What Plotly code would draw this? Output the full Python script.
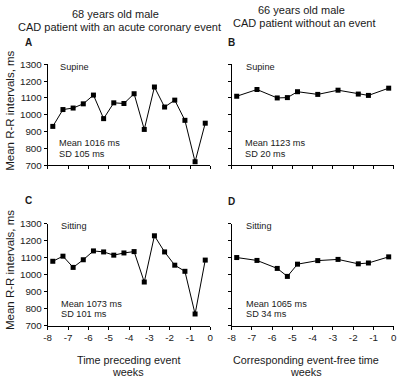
import plotly.graph_objects as go

# ---- data ----
weeks_a = [-7.75, -7.25, -6.75, -6.25, -5.75, -5.25, -4.75, -4.25,
           -3.75, -3.25, -2.75, -2.25, -1.75, -1.25, -0.75, -0.25]
rr_a_supine = [931, 1031, 1040, 1065, 1117, 977, 1071, 1067,
               1125, 913, 1165, 1046, 1087, 967, 721, 950]
rr_a_sitting = [1078, 1108, 1042, 1087, 1139, 1133, 1114, 1127,
                1135, 956, 1228, 1133, 1055, 1019, 768, 1085]

weeks_b = [-7.75, -6.75, -5.75, -5.25, -4.75, -3.75, -2.75, -1.75, -1.25, -0.25]
rr_b_supine = [1110, 1150, 1100, 1102, 1137, 1121, 1146, 1123, 1115, 1158]
rr_b_sitting = [1100, 1083, 1036, 989, 1061, 1082, 1089, 1063, 1068, 1104]

x_ticks = [-8, -7, -6, -5, -4, -3, -2, -1, 0]
x_tick_labels = ["-8", "-7", "-6", "-5", "-4", "-3", "-2", "-1", "0"]
y_ticks = [700, 800, 900, 1000, 1100, 1200, 1300]

W, H = 400, 382
FONT = "Liberation Sans, Arial, sans-serif"
TXT = "#1a1a1a"


def px(x):
    return x / W


def py(y):
    return 1 - y / H


fig = go.Figure()

panels = [
    (weeks_a, rr_a_supine, "x", "y"),
    (weeks_b, rr_b_supine, "x2", "y2"),
    (weeks_a, rr_a_sitting, "x3", "y3"),
    (weeks_b, rr_b_sitting, "x4", "y4"),
]
for xs, ys, xa, ya in panels:
    fig.add_trace(go.Scatter(
        x=xs, y=ys, xaxis=xa, yaxis=ya, mode="lines+markers",
        line=dict(color="black", width=1),
        marker=dict(symbol="square", size=5, color="black"),
        showlegend=False, cliponaxis=False))

xdom_l = [px(44.5), px(210)]
xdom_r = [px(231.7), px(396.7)]
ydom_t = [py(164), py(60)]
ydom_b = [py(329), py(224)]

axis_common = dict(showline=True, linecolor="black", linewidth=1,
                   ticks="outside", ticklen=3, tickwidth=1, tickcolor="black",
                   showgrid=False, zeroline=False,
                   tickfont=dict(family=FONT, size=9.8, color=TXT))


def xax(dom, anchor, labels):
    return dict(axis_common, domain=dom, anchor=anchor, range=[-8, 0],
                tickvals=x_ticks, ticktext=x_tick_labels,
                showticklabels=labels)


def yax(dom, anchor, labels):
    return dict(axis_common, domain=dom, anchor=anchor, range=[700, 1300],
                tickvals=y_ticks, showticklabels=labels)


fig.update_layout(
    width=W, height=H,
    margin=dict(l=0, r=0, t=0, b=0),
    paper_bgcolor="white", plot_bgcolor="white",
    font=dict(family=FONT, color=TXT),
    xaxis=xax(xdom_l, "y", False),
    yaxis=yax(ydom_t, "x", True),
    xaxis2=xax(xdom_r, "y2", False),
    yaxis2=yax(ydom_t, "x2", False),
    xaxis3=xax(xdom_l, "y3", True),
    yaxis3=yax(ydom_b, "x3", True),
    xaxis4=xax(xdom_r, "y4", True),
    yaxis4=yax(ydom_b, "x4", False),
)

ann = []


def text(x, y, s, size=9.2, xanchor="left", bold=False, angle=0):
    ann.append(dict(x=px(x), y=py(y), xref="paper", yref="paper", text=s,
                    showarrow=False, xanchor=xanchor, yanchor="middle",
                    textangle=angle,
                    font=dict(family=FONT, size=size, color=TXT,
                              weight="bold" if bold else "normal")))


# headers
text(113, 8, "68 years old male", size=11, xanchor="center")
text(118, 21.5, "CAD patient with an acute coronary event", size=11, xanchor="center")
text(303, 4.5, "66 years old male", size=11, xanchor="center")
text(305.5, 18, "CAD patient without an event", size=11, xanchor="center")

# panel letters
text(19, 38, "A", size=10, bold=True)
text(226, 38, "B", size=10, bold=True)
text(19, 200, "C", size=10, bold=True)
text(226, 201.5, "D", size=10, bold=True)

# panel texts
text(54.5, 62.5, "Supine")
text(54, 141, "Mean 1016 ms")
text(54, 152.5, "SD 105 ms")
text(244.5, 62.5, "Supine")
text(243, 141, "Mean 1123 ms")
text(243, 152.5, "SD 20 ms")
text(55.5, 226.5, "Sitting")
text(55.5, 306.5, "Mean 1073 ms")
text(55.5, 317.5, "SD 101 ms")
text(244.5, 226.5, "Sitting")
text(244.5, 307, "Mean 1065 ms")
text(244.5, 317.5, "SD 34 ms")

# y titles
text(6, 108, "Mean R-R intervals, ms", size=11.5, xanchor="center", angle=-90)
text(6, 272, "Mean R-R intervals, ms", size=11.5, xanchor="center", angle=-90)

# x titles
text(126.5, 364, "Time preceding event", size=10.8, xanchor="center")
text(126.5, 377, "weeks", size=10.8, xanchor="center")
text(307, 364, "Corresponding event-free time", size=10.8, xanchor="center")
text(307, 377, "weeks", size=10.8, xanchor="center")

fig.update_layout(annotations=ann)

fig.write_html(
    "out.html",
    config={"displayModeBar": False},
    post_script="document.body.style.margin='0';document.body.style.padding='0';",
)
